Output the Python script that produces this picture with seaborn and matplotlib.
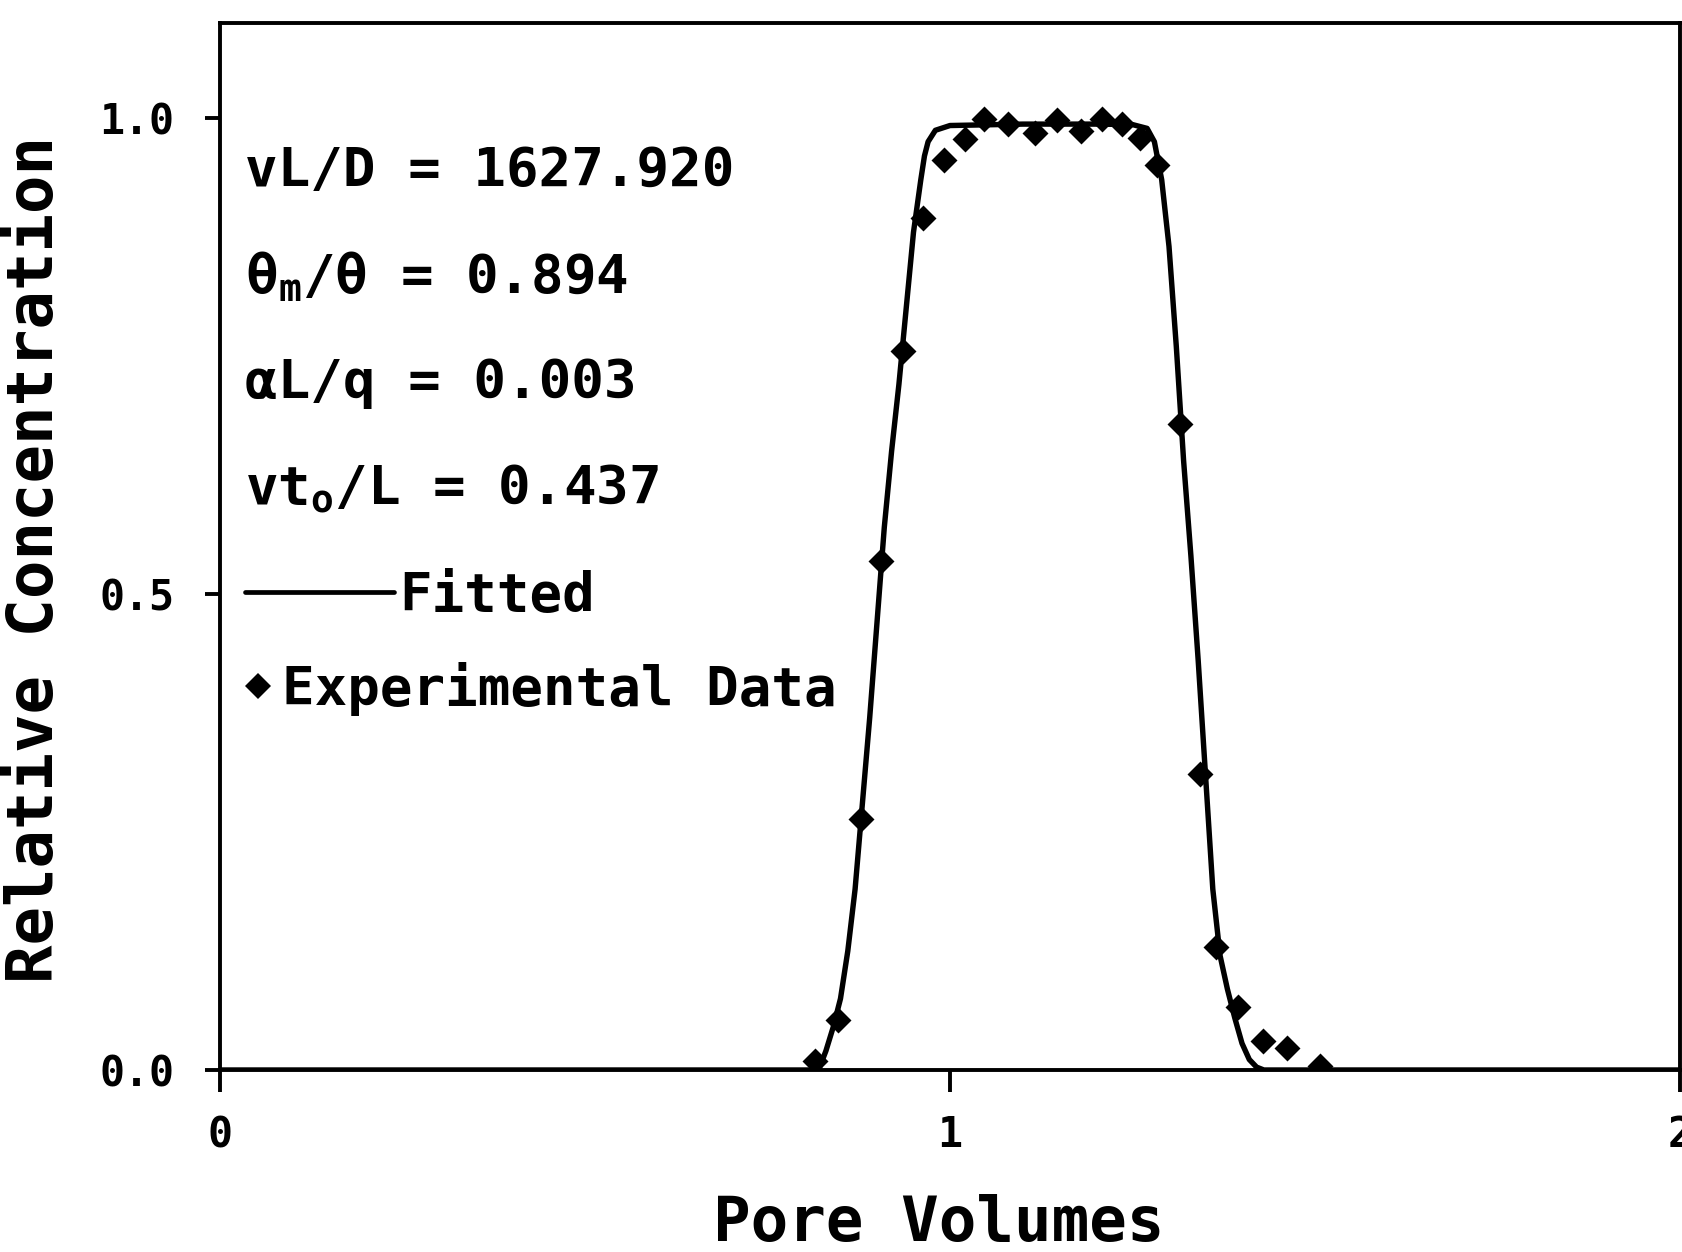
import matplotlib
matplotlib.use("Agg")
import matplotlib.pyplot as plt
from matplotlib.lines import Line2D
import seaborn as sns

# ── data ──
# fitted breakthrough curve
fit_x = [0.00, 0.80, 0.82, 0.83, 0.84, 0.85, 0.86, 0.87, 0.88, 0.89, 0.90,
         0.91, 0.92, 0.93, 0.94, 0.95, 0.96, 0.965, 0.97, 0.98, 1.00, 1.10, 1.20,
         1.25, 1.27, 1.28, 1.29, 1.30, 1.31, 1.32, 1.33, 1.34, 1.35, 1.36,
         1.37, 1.38, 1.39, 1.40, 1.41, 1.42, 1.43, 2.00]
fit_y = [0.0, 0.0, 0.0, 0.02, 0.045, 0.075, 0.125, 0.19, 0.28, 0.37, 0.47,
         0.57, 0.65, 0.72, 0.80, 0.88, 0.935, 0.96, 0.975, 0.987, 0.992, 0.9935, 0.9935,
         0.993, 0.989, 0.975, 0.935, 0.865, 0.76, 0.64, 0.54, 0.43, 0.31, 0.19,
         0.12, 0.085, 0.055, 0.028, 0.011, 0.003, 0.0, 0.0]

# experimental data
exp_x = [0.815, 0.846, 0.878, 0.905, 0.936, 0.963, 0.992, 1.021, 1.046, 1.080,
         1.116, 1.147, 1.180, 1.208, 1.235, 1.260, 1.283, 1.315, 1.342, 1.365,
         1.394, 1.429, 1.461, 1.507]
exp_y = [0.009, 0.052, 0.264, 0.535, 0.755, 0.895, 0.956, 0.978, 0.999, 0.994,
         0.984, 0.998, 0.986, 0.999, 0.994, 0.979, 0.951, 0.679, 0.311, 0.129,
         0.066, 0.030, 0.023, 0.004]

# fitted parameters
param_labels = ["vL/D = 1627.920",
                "θ$_m$/θ = 0.894",
                "αL/q = 0.003",
                "vt$_o$/L = 0.437"]
param_y = [0.928, 0.816, 0.706, 0.595]

x_ticks = [0, 1, 2]
y_ticks = [0.0, 0.5, 1.0]
y_ticklabels = ["0.0", "0.5", "1.0"]

# ── style ──
sns.set_theme(style="ticks")
plt.rcParams["font.family"] = ["DejaVu Sans Mono", "DejaVu Sans"]
plt.rcParams["font.weight"] = "bold"
plt.rcParams["mathtext.default"] = "regular"
plt.rcParams["axes.edgecolor"] = "black"
plt.rcParams["axes.linewidth"] = 2.8
plt.rcParams["text.color"] = "black"

W, H = 1683, 1252
fig = plt.figure(figsize=(W / 100, H / 100), dpi=100)
ax = fig.add_axes([220 / W, 1 - 1070 / H, 1460 / W, (1070 - 22.7) / H])

sns.lineplot(x=fit_x, y=fit_y, ax=ax, color="black", linewidth=3.9,
             estimator=None, sort=False, zorder=2)
sns.scatterplot(x=exp_x, y=exp_y, ax=ax, marker="D", s=175, color="black",
                linewidth=0, zorder=3)

ax.set_xlim(0, 2)
ax.set_ylim(0, 1.1)
ax.set_xticks(x_ticks)
ax.set_xticklabels([str(t) for t in x_ticks])
ax.set_yticks(y_ticks)
ax.set_yticklabels(y_ticklabels)
ax.tick_params(axis="x", direction="out", length=16, width=2.8, pad=16,
               labelsize=30, colors="black")
ax.tick_params(axis="y", direction="out", length=11, width=2.8, pad=22,
               labelsize=30, colors="black")

ax.set_xlabel("Pore Volumes", fontsize=45, fontweight="bold", color="black")
ax.xaxis.label.set_verticalalignment("baseline")
ax.xaxis.set_label_coords(0.4925, -0.163)
ax.set_ylabel("Relative Concentration", fontsize=46, fontweight="bold", color="black")
ax.yaxis.label.set_verticalalignment("center")
ax.yaxis.set_label_coords(-0.1267, 0.487)

for lab, yy in zip(param_labels, param_y):
    ax.text(0.034, yy, lab, fontsize=39, fontweight="bold", va="baseline",
            ha="left", color="black")

# legend entries as in the original (line key, then diamond key)
h_fit = Line2D([], [], color="black", linewidth=3.4)
h_exp = Line2D([], [], color="black", linestyle="none", marker="D",
               markersize=13, markeredgewidth=0)
leg1 = ax.legend([h_fit], ["Fitted"], loc="center left",
                 bbox_to_anchor=(0.0171, 0.4526), frameon=False, fontsize=39,
                 handlelength=2.75, handletextpad=0.1, borderpad=0,
                 borderaxespad=0, labelcolor="black")
ax.add_artist(leg1)
ax.legend([h_exp], ["Experimental Data"], loc="center left",
          bbox_to_anchor=(0.0148, 0.3638), frameon=False, fontsize=39,
          handlelength=0.6, handletextpad=0.14, borderpad=0, borderaxespad=0,
          labelcolor="black")

fig.savefig("out.png", dpi=100)
